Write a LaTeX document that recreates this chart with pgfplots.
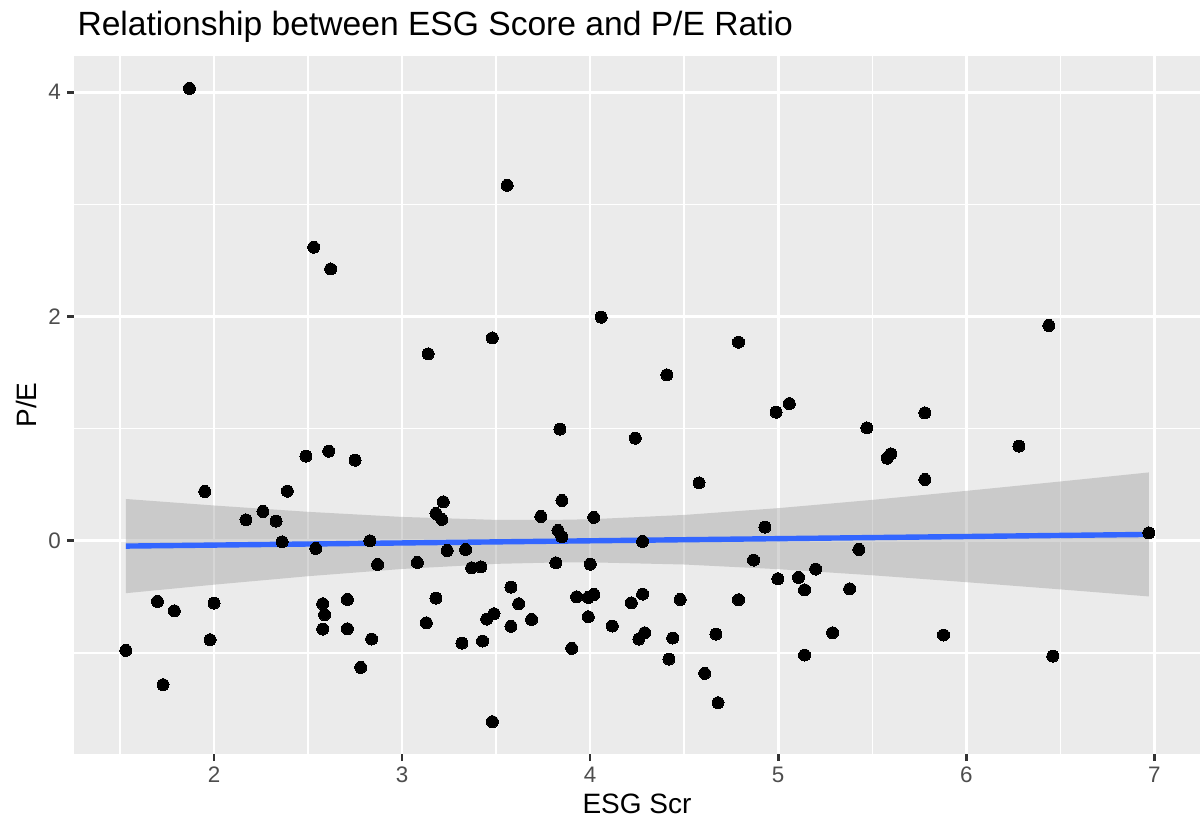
\documentclass[border=0pt]{standalone}
\usepackage{fontspec}
\setmainfont{Liberation Sans}
\usepackage{pgfplots}
\pgfplotsset{compat=1.18}
\usepackage{pgfplotstable}
\usepgfplotslibrary{fillbetween}

\definecolor{panelbg}{HTML}{EBEBEB}
\definecolor{grey30}{HTML}{4D4D4D}
\definecolor{grey20}{HTML}{333333}
\definecolor{smoothblue}{HTML}{3366FF}
\definecolor{bandgrey}{HTML}{999999}

% ESG score vs P/E observations
\pgfplotstableread{
x y
1.869 4.035
2.530 2.618
2.620 2.424
3.139 1.667
3.559 3.170
3.480 1.809
4.059 1.994
4.789 1.771
4.408 1.480
5.059 1.224
4.989 1.147
6.439 1.920
5.780 1.141
1.531 -0.977
1.729 -1.283
1.699 -0.540
1.789 -0.624
1.951 0.440
2.000 -0.555
1.979 -0.882
2.170 0.187
2.260 0.262
2.330 0.176
2.390 0.443
2.362 -0.009
2.489 0.755
2.610 0.799
2.750 0.719
2.541 -0.068
2.829 0.000
2.870 -0.211
3.081 -0.193
2.578 -0.561
2.588 -0.659
2.578 -0.787
2.709 -0.523
2.709 -0.784
2.838 -0.876
2.780 -1.129
3.129 -0.731
3.180 -0.511
3.219 0.348
3.180 0.244
3.211 0.191
3.240 -0.086
3.338 -0.077
3.370 -0.240
3.419 -0.232
3.318 -0.912
3.428 -0.894
3.480 -1.613
3.450 -0.698
3.489 -0.650
3.579 -0.413
3.620 -0.561
3.579 -0.763
3.689 -0.701
3.738 0.217
3.839 0.996
3.850 0.360
3.829 0.092
3.850 0.036
3.818 -0.196
3.902 -0.959
3.928 -0.499
3.990 -0.505
4.020 -0.478
3.990 -0.677
4.001 -0.208
4.019 0.209
4.118 -0.760
4.219 -0.553
4.279 -0.475
4.240 0.915
4.279 -0.005
4.259 -0.876
4.290 -0.820
4.419 -1.054
4.439 -0.867
4.479 -0.523
4.579 0.517
4.609 -1.182
4.669 -0.832
4.680 -1.444
4.789 -0.525
4.869 -0.172
4.929 0.122
4.998 -0.338
5.108 -0.326
5.140 -0.437
5.140 -1.019
5.199 -0.252
5.472 1.007
5.580 0.737
5.599 0.776
6.280 0.844
5.780 0.547
5.429 -0.077
5.380 -0.428
5.289 -0.820
5.879 -0.840
6.460 -1.028
6.971 0.071
}\pointsdata

% linear fit with 95% confidence band
\pgfplotstableread{
x fit upper lower
1.531 -0.047 0.373 -0.467
2.000 -0.038 0.315 -0.391
2.500 -0.0285 0.2585 -0.3155
3.000 -0.019 0.213 -0.251
3.500 -0.0094 0.1866 -0.2054
3.810 -0.0034 0.1866 -0.1934
4.000 0.0002 0.1922 -0.1918
4.500 0.0098 0.2308 -0.2112
5.000 0.0193 0.2913 -0.2527
5.500 0.0289 0.3649 -0.3071
6.000 0.0384 0.4454 -0.3686
6.500 0.0480 0.5290 -0.4330
6.971 0.0570 0.6100 -0.4960
}\fitdata

\begin{document}
\begin{tikzpicture}
\path (0bp,0bp) rectangle (1203bp,826bp);
\begin{axis}[
  at={(74bp,72bp)}, anchor=south west,
  width=1126bp, height=698bp, scale only axis,
  xmin=1.2555, xmax=7.243, ymin=-1.901, ymax=4.3235,
  axis background/.style={fill=panelbg},
  axis line style={draw=none},
  xtick={2,3,4,5,6,7}, ytick={0,2,4},
  minor xtick={1.5,2.5,3.5,4.5,5.5,6.5},
  minor ytick={-1,1,3},
  xtick pos=left, ytick pos=left,
  tick align=outside,
  major tick length=7bp, minor tick length=0bp,
  major tick style={draw=grey20, line width=2.7bp},
  grid=both,
  major grid style={draw=white, line width=2.7bp},
  minor grid style={draw=white, line width=1.35bp},
  /pgf/number format/assume math mode=true,
  ticklabel style={font=\fontsize{22.4bp}{26bp}\selectfont, text=grey30, inner sep=0pt},
  xticklabel shift=5.7bp, yticklabel shift=6bp,
]
\addplot[only marks, mark=*, mark size=6bp,
  mark options={draw=black, fill=black, line width=0pt}]
  table[x=x, y=y] {\pointsdata};
\addplot[name path=up, draw=none, forget plot] table[x=x, y=upper] {\fitdata};
\addplot[name path=lo, draw=none, forget plot] table[x=x, y=lower] {\fitdata};
\addplot[fill=bandgrey, fill opacity=0.4, draw=none] fill between[of=up and lo];
\addplot[smoothblue, line width=5.4bp] table[x=x, y=fit] {\fitdata};
\end{axis}
\node[anchor=base west, font=\fontsize{33.6bp}{40bp}\selectfont] at (74bp,790bp) {Relationship between ESG Score and P/E Ratio};
\node[anchor=base, font=\fontsize{28bp}{34bp}\selectfont] at (637bp,13bp) {ESG Scr};
\node[anchor=base, rotate=90, font=\fontsize{28bp}{34bp}\selectfont] at (36bp,421bp) {P/E};
\end{tikzpicture}
\end{document}
